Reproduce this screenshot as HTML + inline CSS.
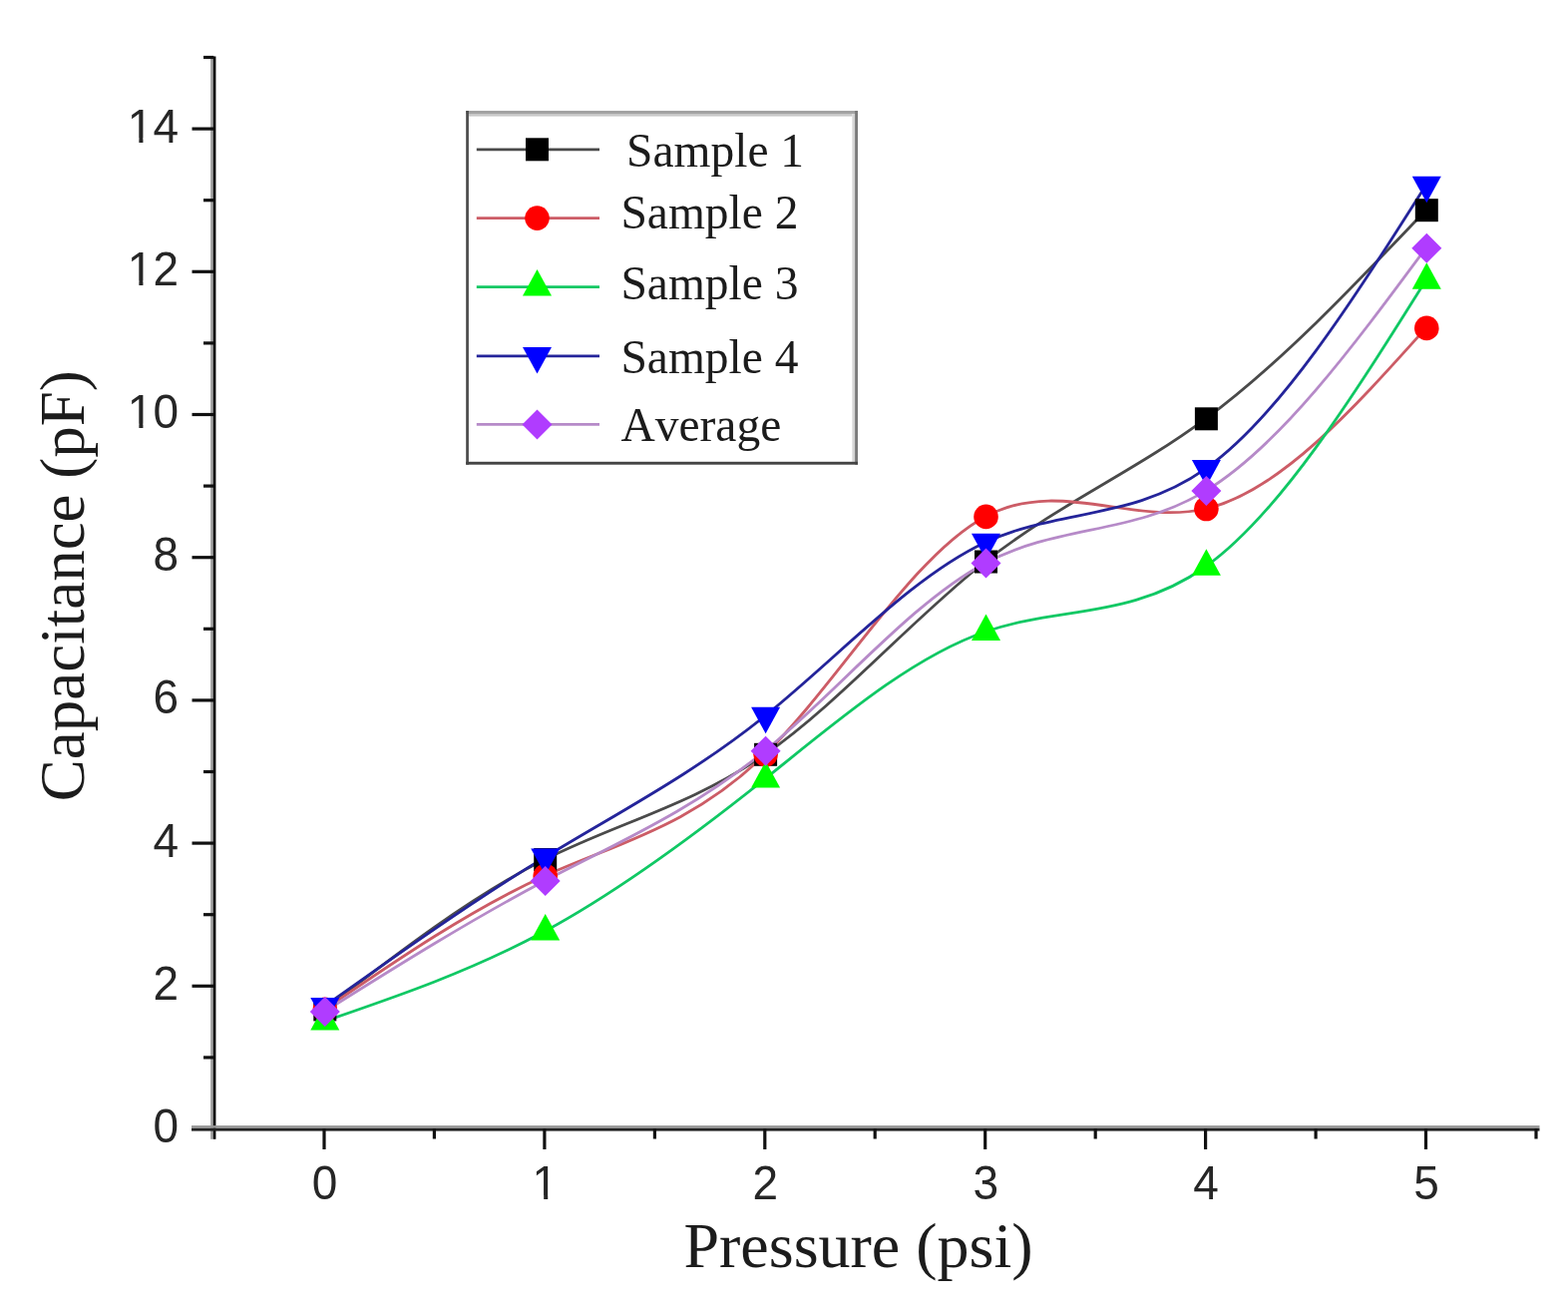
<!DOCTYPE html>
<html><head><meta charset="utf-8"><title>Capacitance vs Pressure</title>
<style>
html,body{margin:0;padding:0;background:#fff;overflow:hidden;}
svg{display:block;}
.tk{font-family:"Liberation Sans",Arial,sans-serif;font-size:46px;fill:#262626;}
.ti{font-family:"Liberation Serif","Times New Roman",serif;fill:#1c1c1c;font-kerning:none;}
</style></head><body>
<svg width="1572" height="1314" viewBox="0 0 1572 1314">
<defs><clipPath id="one" clipPathUnits="userSpaceOnUse"><rect x="-10" y="-60" width="50" height="55.98"/><rect x="11.57" y="-10" width="4.06" height="12"/></clipPath></defs>
<rect width="1572" height="1314" fill="#fff"/>

<g shape-rendering="auto">
<rect x="211.1" y="56.5" width="2.6" height="1085.3" fill="#a0a0a0"/>
<rect x="213.7" y="56.5" width="2.7" height="1085.3" fill="#000"/>
<rect x="192" y="1128.1" width="1351.5" height="2.7" fill="#989898"/>
<rect x="192" y="1130.8" width="1351.5" height="2.8" fill="#222"/>
</g>
<g stroke="#111" stroke-width="3.2" fill="none">
<line x1="204" y1="1059.9" x2="214.3" y2="1059.9"/>
<line x1="192.5" y1="988.3" x2="214.3" y2="988.3"/>
<line x1="204" y1="916.7" x2="214.3" y2="916.7"/>
<line x1="192.5" y1="845.1" x2="214.3" y2="845.1"/>
<line x1="204" y1="773.5" x2="214.3" y2="773.5"/>
<line x1="192.5" y1="701.9" x2="214.3" y2="701.9"/>
<line x1="204" y1="630.3" x2="214.3" y2="630.3"/>
<line x1="192.5" y1="558.7" x2="214.3" y2="558.7"/>
<line x1="204" y1="487.1" x2="214.3" y2="487.1"/>
<line x1="192.5" y1="415.5" x2="214.3" y2="415.5"/>
<line x1="204" y1="343.9" x2="214.3" y2="343.9"/>
<line x1="192.5" y1="272.3" x2="214.3" y2="272.3"/>
<line x1="204" y1="200.7" x2="214.3" y2="200.7"/>
<line x1="192.5" y1="129.1" x2="214.3" y2="129.1"/>
<line x1="204" y1="57.5" x2="214.3" y2="57.5"/>
<line x1="325.0" y1="1131.2" x2="325.0" y2="1152"/>
<line x1="435.4" y1="1131.2" x2="435.4" y2="1141.5"/>
<line x1="545.9" y1="1131.2" x2="545.9" y2="1152"/>
<line x1="656.4" y1="1131.2" x2="656.4" y2="1141.5"/>
<line x1="766.8" y1="1131.2" x2="766.8" y2="1152"/>
<line x1="877.2" y1="1131.2" x2="877.2" y2="1141.5"/>
<line x1="987.7" y1="1131.2" x2="987.7" y2="1152"/>
<line x1="1098.2" y1="1131.2" x2="1098.2" y2="1141.5"/>
<line x1="1208.6" y1="1131.2" x2="1208.6" y2="1152"/>
<line x1="1319.1" y1="1131.2" x2="1319.1" y2="1141.5"/>
<line x1="1429.5" y1="1131.2" x2="1429.5" y2="1152"/>
<line x1="1540.0" y1="1131.2" x2="1540.0" y2="1141.5"/>
</g>
<g transform="translate(153.4,1145.0) scale(1,1.04)"><text class="tk" x="0.0" y="0">0</text></g>
<g transform="translate(153.4,1001.8) scale(1,1.04)"><text class="tk" x="0.0" y="0">2</text></g>
<g transform="translate(153.4,858.6) scale(1,1.04)"><text class="tk" x="0.0" y="0">4</text></g>
<g transform="translate(153.4,715.4) scale(1,1.04)"><text class="tk" x="0.0" y="0">6</text></g>
<g transform="translate(153.4,572.2) scale(1,1.04)"><text class="tk" x="0.0" y="0">8</text></g>
<g transform="translate(127.8,429.0) scale(1,1.04)"><g transform="translate(0.0,0)"><text class="tk" x="0" y="0" clip-path="url(#one)">1</text></g><text class="tk" x="25.6" y="0">0</text></g>
<g transform="translate(127.8,285.8) scale(1,1.04)"><g transform="translate(0.0,0)"><text class="tk" x="0" y="0" clip-path="url(#one)">1</text></g><text class="tk" x="25.6" y="0">2</text></g>
<g transform="translate(127.8,142.6) scale(1,1.04)"><g transform="translate(0.0,0)"><text class="tk" x="0" y="0" clip-path="url(#one)">1</text></g><text class="tk" x="25.6" y="0">4</text></g>
<g transform="translate(312.7,1202.3) scale(1,1.04)"><text class="tk" x="0.0" y="0">0</text></g>
<g transform="translate(533.6,1202.3) scale(1,1.04)"><g transform="translate(0.0,0)"><text class="tk" x="0" y="0" clip-path="url(#one)">1</text></g></g>
<g transform="translate(754.5,1202.3) scale(1,1.04)"><text class="tk" x="0.0" y="0">2</text></g>
<g transform="translate(975.4,1202.3) scale(1,1.04)"><text class="tk" x="0.0" y="0">3</text></g>
<g transform="translate(1196.3,1202.3) scale(1,1.04)"><text class="tk" x="0.0" y="0">4</text></g>
<g transform="translate(1417.2,1202.3) scale(1,1.04)"><text class="tk" x="0.0" y="0">5</text></g>
<text class="ti" x="0" y="0" font-size="63" text-anchor="middle" transform="translate(84,587.2) rotate(-90)">Capacitance (pF)</text>
<text class="ti" x="860.5" y="1269.6" font-size="64" text-anchor="middle">Pressure (psi)</text>
<path d="M325.0,1011.9C398.6,955.2 472.3,898.6 545.9,861.6C619.5,824.6 693.2,807.3 766.8,756.3C840.4,705.4 914.1,620.8 987.7,563.0C1061.3,505.2 1135.0,474.1 1208.6,419.8C1282.2,365.5 1355.9,288.1 1429.5,210.7" stroke="#4a4a4a" stroke-width="2.8" fill="none"/>
<path d="M325.0,1011.9C398.6,961.7 472.3,911.4 545.9,878.0C619.5,844.7 693.2,828.2 766.8,756.3C840.4,684.5 914.1,557.3 987.7,517.9C1061.3,478.5 1135.0,526.9 1208.6,510.0C1282.2,493.1 1355.9,411.0 1429.5,328.9" stroke="#cc5c66" stroke-width="2.8" fill="none"/>
<path d="M325.0,1023.7C398.6,998.5 472.3,973.3 545.9,933.5C619.5,893.8 693.2,839.5 766.8,780.7C840.4,721.8 914.1,658.5 987.7,633.2C1061.3,607.8 1135.0,620.4 1208.6,568.0C1282.2,515.6 1355.9,398.3 1429.5,280.9" stroke="#10c864" stroke-width="2.8" fill="none"/>
<path d="M325.0,1008.7C398.6,956.5 472.3,904.3 545.9,859.4C619.5,814.5 693.2,776.8 766.8,717.7C840.4,658.5 914.1,577.8 987.7,543.7C1061.3,509.5 1135.0,521.8 1208.6,469.9C1282.2,418.0 1355.9,301.8 1429.5,185.7" stroke="#24249a" stroke-width="2.8" fill="none"/>
<path d="M325.0,1014.1C398.6,967.9 472.3,921.8 545.9,883.0C619.5,844.3 693.2,812.9 766.8,752.7C840.4,692.5 914.1,603.5 987.7,564.4C1061.3,525.4 1135.0,536.4 1208.6,492.1C1282.2,447.8 1355.9,348.2 1429.5,248.7" stroke="#b68ac8" stroke-width="2.8" fill="none"/>
<rect x="314.3" y="1000.4" width="23" height="23" fill="#000000"/>
<rect x="535.2" y="850.1" width="23" height="23" fill="#000000"/>
<rect x="756.1" y="744.8" width="23" height="23" fill="#000000"/>
<rect x="977.0" y="551.5" width="23" height="23" fill="#000000"/>
<rect x="1197.9" y="408.3" width="23" height="23" fill="#000000"/>
<rect x="1418.8" y="199.2" width="23" height="23" fill="#000000"/>
<circle cx="325.8" cy="1011.9" r="12.3" fill="#ff0000"/>
<circle cx="546.7" cy="878.0" r="12.3" fill="#ff0000"/>
<circle cx="767.6" cy="756.3" r="12.3" fill="#ff0000"/>
<circle cx="988.5" cy="517.9" r="12.3" fill="#ff0000"/>
<circle cx="1209.4" cy="510.0" r="12.3" fill="#ff0000"/>
<circle cx="1430.3" cy="328.9" r="12.3" fill="#ff0000"/>
<polygon points="325.8,1006.0 340.3,1032.5 311.3,1032.5" fill="#00ff00"/>
<polygon points="546.7,915.9 561.2,942.4 532.2,942.4" fill="#00ff00"/>
<polygon points="767.6,763.0 782.1,789.5 753.1,789.5" fill="#00ff00"/>
<polygon points="988.5,615.5 1003.0,642.0 974.0,642.0" fill="#00ff00"/>
<polygon points="1209.4,550.3 1223.9,576.8 1194.9,576.8" fill="#00ff00"/>
<polygon points="1430.3,263.2 1444.8,289.7 1415.8,289.7" fill="#00ff00"/>
<polygon points="311.3,999.9 340.3,999.9 325.8,1026.4" fill="#0000ff"/>
<polygon points="532.2,850.6 561.2,850.6 546.7,877.1" fill="#0000ff"/>
<polygon points="753.1,708.8 782.1,708.8 767.6,735.3" fill="#0000ff"/>
<polygon points="974.0,534.8 1003.0,534.8 988.5,561.3" fill="#0000ff"/>
<polygon points="1194.9,461.1 1223.9,461.1 1209.4,487.6" fill="#0000ff"/>
<polygon points="1415.8,176.8 1444.8,176.8 1430.3,203.3" fill="#0000ff"/>
<polygon points="325.8,999.1 340.8,1014.1 325.8,1029.1 310.8,1014.1" fill="#b03cff"/>
<polygon points="546.7,868.0 561.7,883.0 546.7,898.0 531.7,883.0" fill="#b03cff"/>
<polygon points="767.6,737.7 782.6,752.7 767.6,767.7 752.6,752.7" fill="#b03cff"/>
<polygon points="988.5,549.4 1003.5,564.4 988.5,579.4 973.5,564.4" fill="#b03cff"/>
<polygon points="1209.4,477.1 1224.4,492.1 1209.4,507.1 1194.4,492.1" fill="#b03cff"/>
<polygon points="1430.3,233.7 1445.3,248.7 1430.3,263.7 1415.3,248.7" fill="#b03cff"/>
<rect x="467.2" y="111" width="392.8" height="354.7" fill="#fff"/>
<rect x="467.2" y="111" width="392.8" height="3" fill="#a2a2a2"/>
<rect x="469.9" y="114" width="384.5" height="2.6" fill="#c8c8c8"/>
<rect x="467.2" y="111" width="2.7" height="354.7" fill="#4a4a4a"/>
<rect x="854.4" y="114" width="2.7" height="348.8" fill="#d4d4d4"/>
<rect x="857.1" y="111" width="2.9" height="354.7" fill="#7a7a7a"/>
<rect x="467.2" y="462.8" width="392.8" height="2.9" fill="#444"/>
<line x1="477.8" y1="149.8" x2="601" y2="149.8" stroke="#4a4a4a" stroke-width="2.8"/>
<rect x="527.0" y="138.3" width="23" height="23" fill="#000000"/>
<text class="ti" x="628" y="166.5" font-size="47.5">Sample 1</text>
<line x1="477.8" y1="218.6" x2="601" y2="218.6" stroke="#cc5c66" stroke-width="2.8"/>
<circle cx="538.5" cy="218.6" r="12.3" fill="#ff0000"/>
<text class="ti" x="622.4" y="229" font-size="47.5">Sample 2</text>
<line x1="477.8" y1="287.6" x2="601" y2="287.6" stroke="#10c864" stroke-width="2.8"/>
<polygon points="538.5,269.9 553.0,296.4 524.0,296.4" fill="#00ff00"/>
<text class="ti" x="622.4" y="299.5" font-size="47.5">Sample 3</text>
<line x1="477.8" y1="356.8" x2="601" y2="356.8" stroke="#24249a" stroke-width="2.8"/>
<polygon points="524.0,348.0 553.0,348.0 538.5,374.5" fill="#0000ff"/>
<text class="ti" x="622.4" y="373.7" font-size="47.5">Sample 4</text>
<line x1="477.8" y1="425.4" x2="601" y2="425.4" stroke="#b68ac8" stroke-width="2.8"/>
<polygon points="538.5,410.4 553.5,425.4 538.5,440.4 523.5,425.4" fill="#b03cff"/>
<text class="ti" x="622.4" y="441.5" font-size="47.5">Average</text>
</svg>
</body></html>
